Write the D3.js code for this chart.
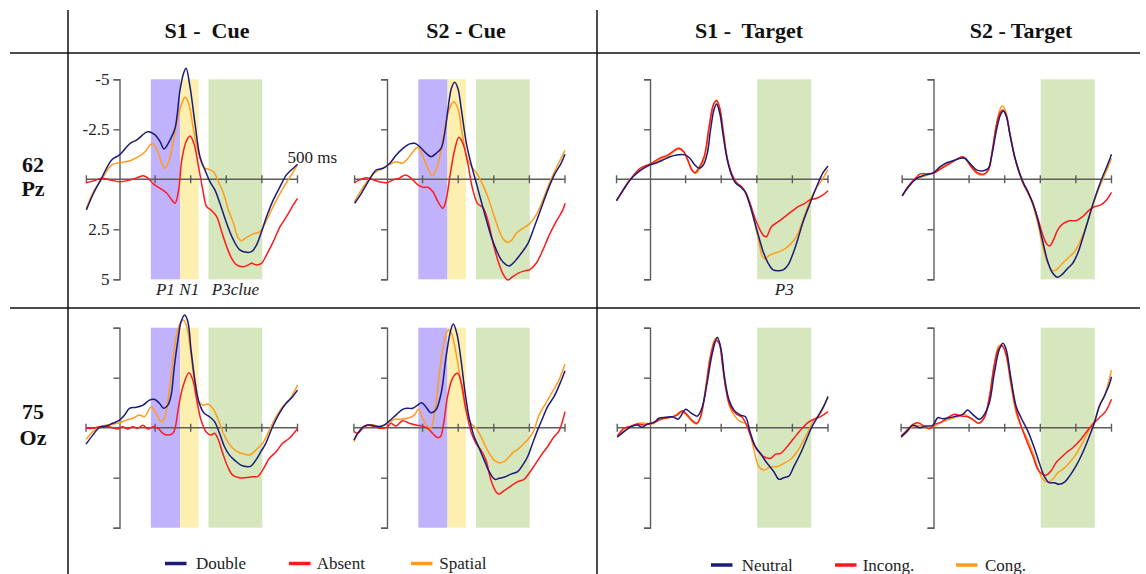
<!DOCTYPE html>
<html><head><meta charset="utf-8">
<script src="https://cdn.jsdelivr.net/npm/d3@7"></script>
<style>
html,body{margin:0;padding:0;background:#fff;}
svg{display:block;font-family:"Liberation Serif","Times New Roman",serif;}
</style></head>
<body><svg id="c" width="1146" height="574"></svg>
<script>
// ---------- categories / labels ----------
const columnTitles = ["S1 -  Cue", "S2 - Cue", "S1 -  Target", "S2 - Target"];
const rowTitles = [["62", "Pz"], ["75", "Oz"]];
const cueSeries = ["Double", "Absent", "Spatial"];
const targetSeries = ["Neutral", "Incong.", "Cong."];
const yTickValues = [-5, -2.5, 2.5, 5];
const xTickValues = [100, 200, 300, 400, 500];
const cueBands = [{label: "P1", from: 88, to: 170}, {label: "N1", from: 170, to: 222}, {label: "P3clue", from: 250, to: 401}];
const targetBands = [{label: "P3", from: 301, to: 453}];

// ---------- series values: [time ms, amplitude µV] ----------
const pzS1CueDouble = [[-93,1.53],[-73,0.7],[-52,0],[-22,-0.97],[0,-1.22],[30,-1.8],[49,-1.97],[79,-2.38],[100,-2.22],[114,-1.88],[125,-1.52],[142,-1.97],[156,-2.55],[170,-4.47],[180,-5.3],[187,-5.55],[198,-4.63],[212,-2.8],[226,-1.13],[240,-0.47],[254,0.12],[268,0.53],[282,1.2],[301,2.2],[320,3.03],[338,3.53],[357,3.65],[371,3.62],[385,3.28],[399,2.62],[413,1.87],[432,1.03],[451,0.37],[469,-0.22],[488,-0.55],[500,-0.75]];
const pzS1CueAbsent = [[-93,0.17],[-73,0.08],[-50,-0.05],[-26,0.03],[0,0.12],[30,0.03],[53,-0.1],[67,-0.18],[81,-0.05],[95,0.23],[114,0.45],[133,0.7],[147,1.03],[156,1.2],[166,0.53],[175,-0.97],[187,-1.88],[198,-2.17],[209,-1.8],[222,-0.63],[234,0.53],[245,1.37],[259,1.57],[273,1.87],[287,2.62],[301,3.37],[315,3.95],[329,4.28],[348,4.37],[362,4.28],[371,4.2],[385,4.28],[399,4.2],[413,3.78],[432,3.12],[451,2.37],[469,1.87],[488,1.28],[500,0.95]];
const pzS1CueSpatial = [[-93,1.45],[-73,0.62],[-50,0],[-22,-0.72],[0,-0.83],[30,-0.93],[53,-1.13],[72,-1.38],[86,-1.72],[95,-1.77],[109,-1.3],[119,-0.8],[128,-0.55],[140,-0.97],[152,-1.97],[163,-3.0],[175,-3.8],[184,-4.1],[194,-3.8],[208,-2.47],[222,-1.3],[236,-0.6],[250,-0.5],[264,-0.38],[278,0.12],[292,0.7],[306,1.53],[320,2.2],[334,2.95],[343,3.07],[357,2.9],[376,2.73],[395,2.62],[409,2.2],[427,1.53],[446,0.87],[465,0.28],[483,-0.22],[500,-0.72]];

const pzS2CueDouble = [[-91,1.2],[-72,0.7],[-49,0],[-30,-0.47],[-11,-0.55],[8,-0.8],[26,-1.22],[45,-1.55],[64,-1.77],[78,-1.8],[92,-1.63],[110,-1.3],[124,-1.13],[138,-1.3],[152,-1.55],[162,-2.3],[171,-3.47],[181,-4.55],[190,-4.85],[199,-4.55],[209,-3.47],[223,-1.8],[237,-0.72],[251,0.2],[265,1.12],[279,2.03],[293,2.87],[307,3.53],[321,4.03],[335,4.28],[344,4.33],[358,4.12],[377,3.7],[396,3.2],[414,2.37],[433,1.45],[452,0.53],[470,-0.22],[489,-0.8],[500,-1.25]];
const pzS2CueAbsent = [[-91,0.17],[-77,0.03],[-58,-0.08],[-39,0.03],[-21,0.13],[0,0.17],[17,0.03],[36,-0.07],[52,-0.22],[68,-0.05],[87,0.28],[101,0.4],[115,0.4],[129,0.62],[143,1.12],[157,1.45],[166,1.03],[178,-0.3],[190,-1.47],[202,-2.1],[213,-1.8],[227,-0.8],[239,0.37],[255,1.23],[269,1.4],[283,2.03],[297,3.12],[311,4.03],[325,4.7],[339,5.03],[353,4.87],[368,4.7],[386,4.58],[400,4.53],[419,4.2],[438,3.53],[456,2.78],[475,2.12],[494,1.53],[500,1.2]];
const pzS2CueSpatial = [[-91,1.12],[-72,0.53],[-49,-0.05],[-30,-0.38],[-11,-0.55],[8,-0.75],[26,-0.88],[43,-0.8],[59,-1.05],[73,-1.38],[87,-1.6],[101,-1.13],[115,-0.55],[127,-0.17],[138,-0.47],[152,-1.47],[165,-2.8],[176,-3.55],[187,-3.88],[199,-3.55],[211,-2.3],[227,-0.97],[241,-0.55],[255,-0.22],[269,0.28],[283,0.87],[297,1.62],[311,2.37],[325,2.95],[337,3.15],[349,3.07],[363,2.7],[382,2.45],[400,2.23],[419,1.78],[438,1.03],[456,0.2],[475,-0.55],[494,-1.22],[500,-1.45]];

const pzS1TargetNeutral = [[-94,1.07],[-75,0.53],[-56,0.03],[-37,-0.3],[-19,-0.55],[0,-0.72],[19,-0.83],[37,-0.97],[56,-1.13],[75,-1.22],[98,-1.22],[112,-1.05],[126,-0.72],[138,-0.55],[150,-0.72],[161,-1.3],[170,-2.47],[180,-3.5],[187,-3.77],[196,-3.3],[206,-2.13],[217,-0.97],[229,-0.22],[241,0.2],[254,0.37],[267,0.62],[279,1.2],[290,1.87],[304,2.78],[318,3.62],[332,4.2],[346,4.53],[360,4.57],[374,4.53],[388,4.28],[402,3.7],[416,2.95],[430,2.12],[449,1.23],[468,0.37],[486,-0.33],[500,-0.67]];
const pzS1TargetIncong = [[-94,1.07],[-75,0.53],[-56,0.03],[-28,-0.55],[0,-0.77],[19,-0.97],[33,-1.1],[51,-1.22],[70,-1.47],[82,-1.55],[95,-1.38],[108,-0.88],[117,-0.47],[126,-0.33],[138,-0.6],[152,-1.13],[166,-2.63],[178,-3.72],[187,-3.93],[196,-3.55],[206,-2.33],[217,-1.05],[232,-0.17],[243,0.17],[257,0.37],[269,0.67],[281,1.2],[295,1.95],[309,2.53],[320,2.83],[327,2.87],[341,2.37],[360,2.12],[379,1.87],[397,1.62],[416,1.37],[435,1.2],[449,1.03],[468,0.95],[486,0.78],[500,0.57]];
const pzS1TargetCong = [[-94,1.07],[-75,0.5],[-56,0],[-28,-0.43],[0,-0.72],[19,-0.88],[37,-1.05],[61,-1.3],[80,-1.52],[94,-1.38],[108,-0.88],[122,-0.38],[129,-0.3],[140,-0.55],[154,-1.13],[168,-2.8],[180,-3.8],[187,-3.97],[196,-3.55],[206,-2.38],[217,-1.05],[229,-0.27],[243,0.17],[257,0.37],[269,0.7],[281,1.28],[292,2.03],[304,2.95],[316,3.87],[323,3.98],[337,3.78],[355,3.67],[374,3.53],[393,3.28],[411,2.87],[430,2.03],[440,1.53],[454,0.87],[468,0.4],[482,0.07],[500,-0.5]];

const pzS2TargetNeutral = [[-88,0.83],[-70,0.37],[-47,-0.05],[-23,-0.22],[0,-0.33],[19,-0.63],[37,-0.83],[56,-0.93],[75,-1.05],[88,-1.05],[102,-0.8],[121,-0.47],[140,-0.43],[154,-0.55],[163,-1.13],[177,-2.47],[188,-3.22],[196,-3.42],[205,-3.13],[214,-2.3],[228,-1.13],[242,-0.3],[253,0.2],[265,0.62],[279,1.2],[293,2.03],[307,3.12],[321,4.12],[335,4.7],[349,4.9],[363,4.73],[377,4.45],[391,4.2],[405,3.7],[419,2.95],[433,2.12],[447,1.28],[461,0.53],[475,-0.13],[489,-0.72],[500,-1.25]];
const pzS2TargetIncong = [[-88,0.83],[-70,0.33],[-51,-0.05],[-37,-0.27],[-19,-0.27],[0,-0.3],[23,-0.55],[47,-0.8],[65,-1],[82,-1.13],[93,-0.97],[107,-0.6],[126,-0.3],[142,-0.27],[154,-0.47],[166,-1.55],[177,-2.72],[186,-3.3],[194,-3.47],[203,-3.27],[214,-2.33],[228,-1.1],[242,-0.27],[253,0.23],[265,0.62],[279,1.2],[293,1.95],[307,2.78],[318,3.23],[326,3.33],[337,3.03],[349,2.53],[363,2.23],[382,2.07],[400,2.07],[419,1.87],[438,1.53],[452,1.37],[470,1.28],[486,1.03],[500,0.65]];
const pzS2TargetCong = [[-88,0.83],[-70,0.33],[-47,-0.05],[-23,-0.17],[0,-0.33],[23,-0.6],[47,-0.83],[65,-1],[84,-1.1],[102,-0.72],[121,-0.3],[140,-0.22],[154,-0.43],[166,-1.47],[177,-2.8],[188,-3.55],[194,-3.68],[203,-3.38],[214,-2.38],[228,-1.13],[242,-0.27],[253,0.28],[265,0.7],[279,1.28],[293,2.2],[307,3.37],[321,4.2],[335,4.57],[345,4.53],[358,4.28],[377,3.95],[396,3.62],[414,3.03],[433,2.12],[447,1.37],[461,0.62],[475,0.03],[489,-0.55],[500,-1.05]];

const ozS1CueDouble = [[-94,0.82],[-75,0.37],[-56,-0.02],[-37,-0.08],[-19,-0.22],[0,-0.38],[14,-0.63],[28,-0.97],[47,-1.02],[66,-1.13],[84,-1.38],[98,-1.42],[112,-1.22],[124,-0.97],[136,-1.13],[145,-1.63],[154,-3.05],[164,-4.38],[173,-5.3],[183,-5.63],[192,-5.3],[201,-3.88],[213,-2.22],[224,-1.22],[238,-0.72],[253,-0.55],[267,-0.3],[281,0.28],[295,0.95],[309,1.37],[323,1.62],[341,1.87],[360,1.95],[369,1.92],[383,1.62],[397,1.2],[411,0.78],[430,-0.05],[449,-0.72],[468,-1.22],[486,-1.55],[500,-1.88]];
const ozS1CueAbsent = [[-94,0.03],[-75,0.03],[-56,-0.05],[-37,-0.08],[-19,0],[-5,0.07],[9,-0.05],[23,0.07],[37,-0.05],[51,0.03],[66,-0.12],[80,0.07],[94,-0.05],[108,0.03],[122,0.28],[136,0.37],[150,0.28],[157,-0.05],[166,-1.05],[178,-2.05],[195,-2.75],[206,-2.38],[217,-1.38],[229,-0.38],[243,0.2],[257,0.37],[267,0.28],[276,0.53],[290,1.28],[304,1.95],[318,2.37],[337,2.5],[355,2.5],[374,2.45],[388,2.45],[402,2.12],[421,1.53],[440,1.2],[458,0.78],[477,0.53],[491,0.25],[500,0.03]];
const ozS1CueSpatial = [[-94,0.58],[-75,0.2],[-56,-0.05],[-37,-0.13],[-19,-0.18],[0,-0.25],[19,-0.38],[37,-0.47],[56,-0.63],[70,-0.55],[89,-1.05],[103,-0.72],[117,-0.3],[126,-0.47],[136,-1.38],[150,-3.38],[161,-4.72],[173,-5.3],[180,-5.38],[189,-5.05],[198,-4.05],[210,-2.38],[223,-1.3],[234,-1.13],[248,-1.18],[262,-0.97],[276,-0.47],[290,0.2],[304,0.7],[318,1.03],[337,1.25],[351,1.32],[365,1.37],[383,1.12],[402,0.78],[421,0.12],[440,-0.55],[458,-1.05],[477,-1.38],[500,-2.13]];

const ozS2CueDouble = [[-93,0.62],[-82,0.28],[-64,-0.08],[-45,-0.13],[-22,-0.05],[-8,-0.13],[7,-0.35],[25,-0.63],[44,-0.92],[58,-0.97],[72,-0.97],[86,-1.13],[97,-1.25],[109,-1.05],[123,-0.75],[137,-0.88],[152,-1.72],[166,-3.55],[178,-4.8],[186,-5.18],[196,-4.72],[208,-3.38],[219,-1.8],[231,-0.47],[245,0.45],[259,1.03],[273,1.62],[287,2.2],[303,2.58],[315,2.53],[329,2.48],[348,2.32],[367,2.2],[381,1.87],[395,1.45],[409,0.78],[423,0.12],[437,-0.47],[451,-1.05],[469,-1.55],[488,-2.3],[500,-2.85]];
const ozS2CueAbsent = [[-93,0.2],[-82,0.28],[-68,0.03],[-54,-0.13],[-36,-0.05],[-17,0.03],[0,-0.02],[11,-0.22],[25,-0.08],[44,-0.35],[63,-0.22],[81,-0.13],[100,-0.08],[114,0.03],[128,0.28],[140,0.48],[150,0.45],[159,-0.22],[170,-1.55],[184,-2.47],[198,-2.72],[209,-2.22],[222,-0.88],[236,0.2],[250,0.78],[264,1.12],[278,1.62],[292,2.62],[306,3.2],[315,3.32],[329,3.15],[348,2.92],[367,2.7],[385,2.58],[399,2.28],[418,1.78],[437,1.28],[451,0.95],[469,0.45],[483,0.17],[500,-0.8]];
const ozS2CueSpatial = [[-93,0.7],[-82,0.28],[-64,-0.05],[-40,-0.13],[-17,-0.08],[2,-0.22],[22,-0.42],[39,-0.42],[58,-0.47],[77,-0.63],[88,-0.92],[100,-0.47],[114,-0.08],[123,0.03],[135,-0.88],[147,-2.72],[161,-4.38],[172,-4.88],[181,-4.72],[194,-3.72],[208,-2.22],[222,-0.88],[236,-0.22],[250,0.03],[264,0.45],[282,1.12],[301,1.62],[315,1.75],[329,1.7],[343,1.45],[357,1.2],[371,1.03],[385,0.78],[399,0.53],[413,0.12],[427,-0.63],[446,-1.22],[465,-1.8],[483,-2.38],[500,-3.18]];

const ozS1TargetNeutral = [[-92,0.48],[-73,0.2],[-54,-0.05],[-36,-0.13],[-22,-0.02],[-8,-0.18],[11,-0.25],[25,-0.47],[44,-0.52],[63,-0.55],[79,-0.43],[100,-0.92],[114,-0.75],[133,-0.58],[147,-1.05],[161,-2.3],[175,-3.72],[189,-4.52],[200,-3.88],[209,-2.55],[222,-1.38],[236,-0.88],[254,-0.63],[268,-0.55],[281,0.2],[296,0.95],[310,1.28],[329,1.78],[348,2.2],[362,2.58],[376,2.5],[390,2.42],[404,1.95],[423,1.28],[441,0.53],[455,-0.05],[474,-0.63],[488,-1.08],[500,-1.55]];
const ozS1TargetIncong = [[-92,0.42],[-73,0.03],[-54,-0.08],[-36,-0.18],[-17,-0.13],[2,-0.22],[21,-0.35],[39,-0.47],[58,-0.52],[77,-0.63],[91,-0.85],[105,-0.63],[119,-0.35],[131,-0.22],[142,-0.55],[156,-1.88],[170,-3.55],[184,-4.35],[194,-4.22],[203,-3.22],[212,-2.05],[224,-1.13],[240,-0.72],[259,-0.52],[273,-0.05],[287,0.62],[301,1.12],[320,1.45],[339,1.53],[353,1.32],[367,1.28],[385,0.95],[404,0.53],[423,0.12],[441,-0.22],[460,-0.42],[479,-0.55],[500,-0.8]];
const ozS1TargetCong = [[-92,0.45],[-73,0.15],[-50,-0.08],[-31,-0.22],[-12,-0.22],[7,-0.18],[25,-0.38],[44,-0.47],[67,-0.58],[88,-0.8],[105,-0.58],[119,-0.3],[131,-0.18],[142,-0.52],[156,-1.97],[170,-3.63],[184,-4.47],[194,-4.3],[203,-3.3],[212,-2.13],[224,-1.05],[236,-0.63],[254,-0.3],[268,-0.22],[281,0.28],[292,1.12],[306,1.95],[320,2.12],[339,1.95],[357,1.95],[376,1.78],[395,1.58],[413,1.2],[432,0.62],[446,0.12],[460,-0.38],[479,-0.72],[500,-1.58]];

const ozS2TargetNeutral = [[-91,0.45],[-77,0.22],[-58,-0.12],[-39,0],[-21,-0.08],[-2,-0.12],[12,-0.5],[26,-0.45],[45,-0.5],[64,-0.58],[82,-0.67],[96,-0.88],[110,-0.67],[129,-0.42],[143,-0.67],[157,-1.25],[171,-2.75],[185,-3.92],[195,-4.22],[204,-3.92],[215,-2.75],[232,-1.08],[246,-0.5],[265,0.17],[283,1],[297,1.75],[311,2.42],[325,2.75],[339,2.75],[353,2.83],[368,2.72],[382,2.42],[400,1.92],[419,1.25],[438,0.42],[452,-0.25],[466,-1.08],[480,-1.58],[494,-2.17],[500,-2.55]];
const ozS2TargetIncong = [[-91,0.42],[-72,0.08],[-58,-0.17],[-44,-0.25],[-30,-0.12],[-11,0.05],[3,-0.17],[22,-0.28],[40,-0.5],[59,-0.67],[78,-0.58],[96,-0.55],[110,-0.42],[127,-0.22],[143,-0.5],[157,-1.5],[171,-3.17],[183,-3.95],[193,-4.08],[204,-3.67],[218,-2.25],[232,-0.92],[246,-0.08],[260,0.58],[279,1.42],[293,2.08],[307,2.33],[316,2.38],[330,2.17],[344,1.75],[358,1.5],[373,1.25],[391,1],[410,0.67],[428,0.25],[447,-0.17],[466,-0.5],[484,-0.83],[500,-1.42]];
const ozS2TargetCong = [[-91,0.5],[-72,0.17],[-53,-0.12],[-35,-0.08],[-16,0],[3,-0.08],[22,-0.28],[45,-0.42],[68,-0.55],[87,-0.67],[101,-0.5],[115,-0.33],[127,-0.22],[143,-0.55],[157,-1.58],[171,-3.17],[183,-4.08],[193,-4.12],[204,-3.58],[218,-2.08],[232,-0.75],[246,-0.08],[260,0.42],[279,1.25],[293,2],[307,2.58],[321,2.72],[335,2.58],[349,2.25],[363,2.08],[382,1.75],[400,1.33],[419,0.75],[438,0.08],[452,-0.33],[466,-1.08],[480,-1.58],[500,-2.88]];

// ---------- build panels table ----------
const panels = [
  {row:0, col:0, bands:cueBands, series:[pzS1CueDouble, pzS1CueAbsent, pzS1CueSpatial]},
  {row:0, col:1, bands:cueBands, series:[pzS2CueDouble, pzS2CueAbsent, pzS2CueSpatial]},
  {row:0, col:2, bands:targetBands, series:[pzS1TargetNeutral, pzS1TargetIncong, pzS1TargetCong]},
  {row:0, col:3, bands:targetBands, series:[pzS2TargetNeutral, pzS2TargetIncong, pzS2TargetCong]},
  {row:1, col:0, bands:cueBands, series:[ozS1CueDouble, ozS1CueAbsent, ozS1CueSpatial]},
  {row:1, col:1, bands:cueBands, series:[ozS2CueDouble, ozS2CueAbsent, ozS2CueSpatial]},
  {row:1, col:2, bands:targetBands, series:[ozS1TargetNeutral, ozS1TargetIncong, ozS1TargetCong]},
  {row:1, col:3, bands:targetBands, series:[ozS2TargetNeutral, ozS2TargetIncong, ozS2TargetCong]}
];

// ---------- layout & style ----------
const colZeroX = [119.5, 387, 650, 933.5];
const rowZeroY = [179.3, 427.7];
const pxPerMs = 0.356, halfSpanPx = 100;
const lineColors = ["#1b1b7a", "#ff1a1a", "#ff9c1c"];
const bandColors = {"P1":"#c0b2fd", "N1":"#fcefb0", "P3clue":"#d6e7be", "P3":"#d6e7be"};
const axisColor = "#5c5c5c";
const serif = '"Liberation Serif","Times New Roman",serif';

const svg = d3.select("#c");
svg.append("rect").attr("width",1146).attr("height",574).attr("fill","#fff");

panels.forEach(p => {
  const cx = colZeroX[p.col], zy = rowZeroY[p.row];
  const x = d3.scaleLinear().domain([0, 500]).range([cx, cx + 500*pxPerMs]);
  const y = d3.scaleLinear().domain([-5, 5]).range([zy - halfSpanPx, zy + halfSpanPx]);
  const g = svg.append("g");
  const tStart = d3.min(p.series, s => s[0][0]);

  // bands
  g.selectAll("rect.band").data(p.bands).join("rect")
    .attr("x", d => x(d.from)).attr("width", d => x(d.to) - x(d.from))
    .attr("y", y(-5)).attr("height", y(5) - y(-5))
    .attr("fill", d => bandColors[d.label]);

  // band labels (top row)
  if (p.row === 0 && (p.col === 0 || p.col === 2)) {
    g.selectAll("text.bl").data(p.bands).join("text")
      .attr("x", d => (x(d.from) + x(d.to)) / 2).attr("y", y(5) + 16)
      .attr("text-anchor", "middle").attr("font-style", "italic")
      .attr("font-size", 17).attr("font-family", serif).attr("fill", "#222")
      .text(d => d.label);
  }

  // y axis
  const yAxis = d3.axisLeft(y).tickValues(yTickValues).tickSize(6).tickSizeOuter(6)
    .tickFormat(d => (p.row === 0 && p.col === 0) ? String(d) : "");
  const ya = g.append("g").attr("transform", `translate(${x(0)},0)`).call(yAxis);
  ya.selectAll("path,line").attr("stroke", axisColor).attr("stroke-width", 1.4);
  ya.selectAll("text").attr("font-size", 17).attr("font-family", serif).attr("fill", "#222").attr("dx", "-1");

  // x axis (through zero)
  g.append("line").attr("x1", x(tStart)).attr("x2", x(500)).attr("y1", y(0)).attr("y2", y(0))
    .attr("stroke", axisColor).attr("stroke-width", 1.4);
  g.selectAll("line.xt").data([tStart].concat(xTickValues)).join("line")
    .attr("x1", d => x(d)).attr("x2", d => x(d)).attr("y1", y(0) - 4).attr("y2", y(0) + 4)
    .attr("stroke", axisColor).attr("stroke-width", 1.4);
  if (p.row === 0 && p.col === 0) {
    g.append("text").attr("x", x(500) - 10).attr("y", y(0) - 16)
      .attr("font-size", 17).attr("font-family", serif).attr("fill", "#222").text("500 ms");
  }

  // curves
  const line = d3.line().x(d => x(d[0])).y(d => y(d[1])).curve(d3.curveCatmullRom.alpha(0.5));
  [2, 1, 0].forEach(i => {
    g.append("path").attr("d", line(p.series[i])).attr("fill", "none")
      .attr("stroke", lineColors[i]).attr("stroke-width", 1.5);
  });
});

// ---------- grid / titles ----------
const grid = svg.append("g").attr("stroke", "#111").attr("stroke-width", 1.5);
grid.append("line").attr("x1", 10).attr("x2", 1140).attr("y1", 53).attr("y2", 53);
grid.append("line").attr("x1", 10).attr("x2", 1140).attr("y1", 308).attr("y2", 308);
grid.append("line").attr("x1", 68).attr("x2", 68).attr("y1", 10).attr("y2", 574);
grid.append("line").attr("x1", 597).attr("x2", 597).attr("y1", 10).attr("y2", 574);

const titleX = [207, 466, 749, 1021];
svg.selectAll("text.ct").data(columnTitles).join("text")
  .attr("x", (d, i) => titleX[i]).attr("y", 38).attr("text-anchor", "middle")
  .attr("font-weight", "bold").attr("font-size", 22).attr("font-family", serif)
  .style("white-space", "pre").attr("fill", "#111").text(d => d);

const rowLabelY = [[171.5, 196], [419, 444.5]];
rowTitles.forEach((r, ri) => {
  r.forEach((t, k) => {
    svg.append("text").attr("x", 33).attr("y", rowLabelY[ri][k]).attr("text-anchor", "middle")
      .attr("font-weight", "bold").attr("font-size", 22).attr("font-family", serif).attr("fill", "#111").text(t);
  });
});

// ---------- legends ----------
function legend(names, swX, txX, sy, ty) {
  names.forEach((n, i) => {
    svg.append("line").attr("x1", swX[i]).attr("x2", swX[i] + 21.5).attr("y1", sy).attr("y2", sy)
      .attr("stroke", lineColors[i]).attr("stroke-width", 3.5);
    svg.append("text").attr("x", txX[i]).attr("y", ty).attr("font-size", 17).attr("font-family", serif)
      .attr("fill", "#222").text(n);
  });
}
legend(cueSeries, [165, 289, 411], [196, 316.7, 439.3], 563.5, 568.5);
legend(targetSeries, [711, 835, 956], [741.7, 862.7, 985], 565, 570.7);
</script></body></html>
